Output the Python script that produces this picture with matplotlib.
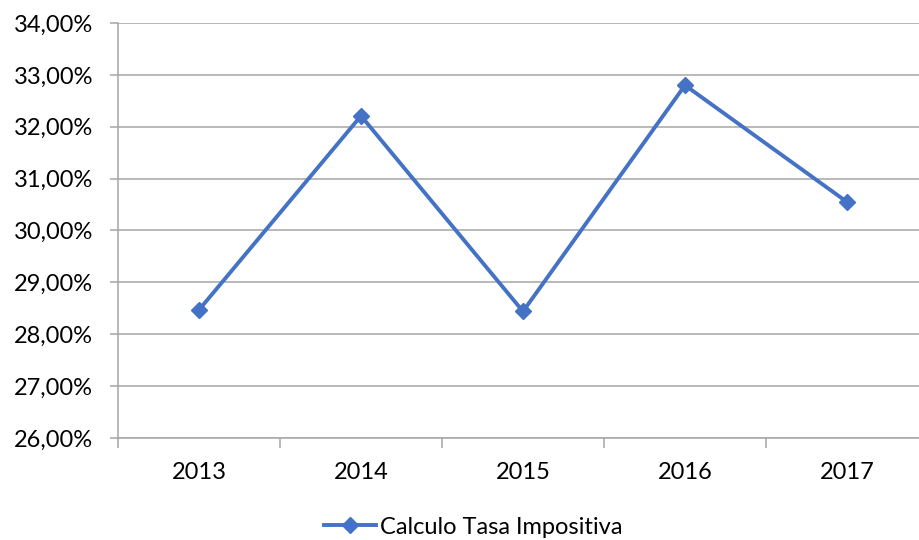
import matplotlib
matplotlib.use("Agg")
import matplotlib.pyplot as plt
from matplotlib.ticker import FuncFormatter, FixedLocator

plt.rcParams["font.family"] = ["Lato", "DejaVu Sans"]

years = ["2013", "2014", "2015", "2016", "2017"]
tasa = [28.47, 32.21, 28.44, 32.80, 30.55]
series_name = "Calculo Tasa Impositiva"

blue = "#4472C4"
grid_grey = "#A6A6A6"
fs = 17


def pct_label(v, _pos):
    return f"{v:.2f}%".replace(".", ",")


fig = plt.figure(figsize=(9.19, 5.40), dpi=100)
ax = fig.add_axes([0.1284, 0.1889, 0.8814, 0.7685])

x = list(range(len(years)))
ax.plot(x, tasa, color=blue, lw=2.8, marker="D", ms=8, mec=blue, mfc=blue,
        label=series_name, zorder=3)

ax.set_xlim(-0.5, len(years) - 0.5)
ax.set_ylim(26, 34)
ax.set_yticks(range(26, 35))
ax.yaxis.set_major_formatter(FuncFormatter(pct_label))
ax.yaxis.grid(True, color=grid_grey, lw=1.1)
ax.set_axisbelow(True)

ax.set_xticks(x)
ax.set_xticklabels(years)
ax.xaxis.set_minor_locator(FixedLocator([i - 0.5 for i in range(len(years) + 1)]))
ax.tick_params(axis="x", which="major", length=0, pad=17, labelsize=fs)
ax.tick_params(axis="x", which="minor", length=7, color=grid_grey, width=1.1)
ax.tick_params(axis="y", length=6, color=grid_grey, width=1.1, labelsize=fs, pad=12)

for side in ["top", "right"]:
    ax.spines[side].set_visible(False)
for side in ["left", "bottom"]:
    ax.spines[side].set_color(grid_grey)
    ax.spines[side].set_linewidth(1.1)

fig.legend(loc="center", bbox_to_anchor=(0.515, 0.024), frameon=False,
           fontsize=fs, handlelength=2.2, handletextpad=0.15,
           bbox_transform=fig.transFigure)

fig.savefig("out.png", dpi=100)
